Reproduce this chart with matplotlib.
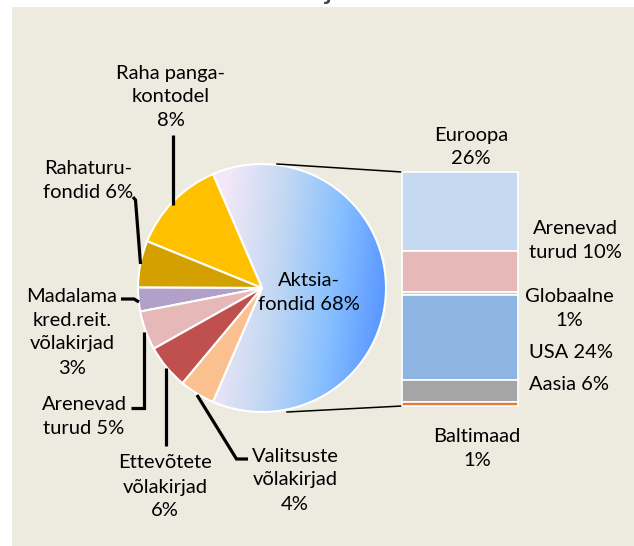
"""Bar-of-pie: fondide jaotus"""
import matplotlib
matplotlib.use('Agg')
import matplotlib.pyplot as plt
from matplotlib.patches import Rectangle
from matplotlib.colors import LinearSegmentedColormap
import numpy as np

plt.rcParams['font.family'] = ['Lato', 'DejaVu Sans']

# pie
pie_names = ['Aktsia-\nfondid 68%', 'Raha panga-\nkontodel\n8%', 'Rahaturu-\nfondid 6%',
             'Madalama\nkred.reit.\nvõlakirjad\n3%', 'Arenevad\nturud 5%',
             'Ettevõtete\nvõlakirjad\n6%', 'Valitsuste\nvõlakirjad\n4%']
pie_values = [63.0, 12.4, 6.1, 3.1, 5.1, 5.8, 4.6]
pie_colors = ['none', '#FFC000', '#D4A000', '#B1A0C7', '#E6B8B7', '#C0504D', '#FAC090']

# bar split of the equity funds
bar_names = ['Euroopa\n26%', 'Arenevad\nturud 10%', 'Globaalne\n1%', 'USA 24%', 'Aasia 6%', 'Baltimaad\n1%']
bar_values = [22.8, 11.9, 1.0, 24.7, 6.2, 1.3]
bar_colors = ['#C5D9F1', '#E6B8B7', '#C4D79B', '#8DB4E2', '#A5A5A5', '#E07B39']

W, H = 634, 546
BG = '#EDEAE0'
fs = 14.5
ls = 1.5

fig = plt.figure(figsize=(W / 100, H / 100), dpi=100, facecolor='white')
ax = fig.add_axes([0, 0, 1, 1])

cx, cy, r = 262, 288, 124
wedges, _ = ax.pie(pie_values, colors=pie_colors, center=(cx, cy), radius=r,
                   startangle=113.3, counterclock=False,
                   wedgeprops=dict(edgecolor='white', linewidth=1.5))

# gradient fill for Aktsiafondid
cmap = LinearSegmentedColormap.from_list('akt', [(0, '#F3E8F8'), (0.35, '#C3D8F2'),
                                                 (0.68, '#88C0FF'), (1, '#5896FF')])
gx, gy = np.meshgrid(np.linspace(0, 1, 200), np.linspace(-1, 1, 200))
grad = np.clip(gx + 0.08 * gy, 0, 1)
im = ax.imshow(grad, cmap=cmap, extent=(213, 388, cy - r, cy + r), origin='lower',
               aspect='auto', interpolation='bicubic', zorder=0.5)
im.set_clip_path(wedges[0])

ax.add_patch(Rectangle((12, 7), W, H, facecolor=BG, edgecolor='none', zorder=-1))
ax.set_xlim(0, W)
ax.set_ylim(H, 0)
ax.axis('off')

# title, mostly above the picture
ax.text(328, -1, 'j', fontsize=22, color='#404040', ha='center', va='baseline', clip_on=False)

# pie labels
lab_pos = [(309, 292), (171, 97), (88, 181), (72, 332), (84, 417), (165, 487), (295, 480)]
for name, (x, y) in zip(pie_names, lab_pos):
    ax.text(x, y, name, fontsize=fs, ha='center', va='center', linespacing=ls)

# leader lines
leaders = [
    [(173, 135), (173, 205)],
    [(133, 197), (135.5, 200), (140.5, 264)],
    [(121, 299), (134, 299), (139, 302)],
    [(131, 408), (144, 408), (144, 332)],
    [(165.5, 446), (165.5, 368)],
    [(248, 459), (236.5, 459), (197, 395)],
]
for pts in leaders:
    xs, ys = zip(*pts)
    ax.plot(xs, ys, color='black', lw=2.3, solid_capstyle='butt', solid_joinstyle='miter')

# connectors pie -> bar
bx0, bx1, by0, by1 = 402, 518, 172, 406
ax.plot([277, bx0], [164, by0], color='black', lw=1.1)
ax.plot([287, bx0], [412, by1], color='black', lw=1.1)

# bar
bax = fig.add_axes([bx0 / W, 1 - by1 / H, (bx1 - bx0) / W, (by1 - by0) / H])
bottoms = np.concatenate([[0], np.cumsum(bar_values)[:-1]])
bax.bar(0, bar_values, bottom=bottoms, width=1, color=bar_colors,
        edgecolor='white', linewidth=1.2, clip_on=False)
bax.set_xlim(-0.5, 0.5)
bax.set_ylim(sum(bar_values), 0)
bax.axis('off')

bar_pos = [(471, 147), (575, 241), (569, 309), (571, 352), (569, 385), (477, 448)]
for name, (x, y) in zip(bar_names, bar_pos):
    ax.text(x, y, name, fontsize=fs, ha='center', va='center', linespacing=ls)

plt.savefig('out.png', dpi=100, facecolor='white')
plt.close()
